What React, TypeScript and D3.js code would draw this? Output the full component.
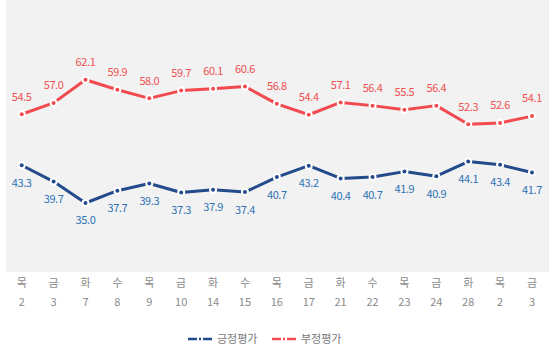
import React from "react";
import * as d3 from "d3";

const days = ["목", "금", "화", "수", "목", "금", "화", "수", "목", "금", "화", "수", "목", "금", "화", "목", "금"];
const dates = ["2", "3", "7", "8", "9", "10", "14", "15", "16", "17", "21", "22", "23", "24", "28", "2", "3"];
const positive = [43.3, 39.7, 35.0, 37.7, 39.3, 37.3, 37.9, 37.4, 40.7, 43.2, 40.4, 40.7, 41.9, 40.9, 44.1, 43.4, 41.7];
const negative = [54.5, 57.0, 62.1, 59.9, 58.0, 59.7, 60.1, 60.6, 56.8, 54.4, 57.1, 56.4, 55.5, 56.4, 52.3, 52.6, 54.1];
const seriesNames = ["긍정평가", "부정평가"];

const W = 554;
const H = 354;
const FONT = "'Noto Sans CJK KR', 'Noto Sans', sans-serif";

export default function App() {
  const idx = days.map((_, i) => i);
  const x = d3.scalePoint<number>().domain(idx).range([21.7, 532]).padding(0);
  const y = d3.scaleLinear().domain([25, 75]).range([248.5, 21]);

  const series = [
    { name: seriesNames[0], values: positive, line: "#234a8a", label: "#2f72b5", dy: 17.6 },
    { name: seriesNames[1], values: negative, line: "#f24a4f", label: "#ef5050", dy: -17.6 },
  ];

  const lineGen = d3
    .line<number>()
    .x((_, i) => x(i) as number)
    .y((d) => y(d));

  return (
    <div style={{ position: "absolute", left: 0, top: 0 }}>
      <svg width={W} height={H} style={{ display: "block", background: "#fff" }}>
        <rect x={6} y={0} width={543} height={272} fill="#f2f2f2" />
        {series.map((s) => (
          <g key={s.name}>
            <path d={lineGen(s.values) || ""} fill="none" stroke={s.line} strokeWidth={3} strokeLinejoin="round" />
            {s.values.map((v, i) => (
              <g key={i}>
                <circle cx={x(i)} cy={y(v)} r={4} fill="#fff" />
                <circle cx={x(i)} cy={y(v)} r={2} fill={s.line} />
                <text
                  x={x(i)}
                  y={y(v) + s.dy}
                  dy="0.35em"
                  textAnchor="middle"
                  fill={s.label}
                  fontSize={11}
                  letterSpacing={-0.4}
                  fontFamily={FONT}
                >
                  {v.toFixed(1)}
                </text>
              </g>
            ))}
          </g>
        ))}
        {idx.map((i) => (
          <g key={i} fontFamily={FONT} fill="#8a8a8a" fontSize={11} textAnchor="middle">
            <text x={x(i)} y={283} dy="0.35em">{days[i]}</text>
            <text x={x(i)} y={302} dy="0.35em">{dates[i]}</text>
          </g>
        ))}
        {series.map((s, k) => {
          const lx = 188 + k * 84;
          const ly = 339;
          return (
            <g key={s.name}>
              <line x1={lx} x2={lx + 9} y1={ly} y2={ly} stroke={s.line} strokeWidth={2.5} />
              <line x1={lx + 11} x2={lx + 13} y1={ly} y2={ly} stroke={s.line} strokeWidth={2.5} />
              <line x1={lx + 15} x2={lx + 24} y1={ly} y2={ly} stroke={s.line} strokeWidth={2.5} />
              <text x={lx + 29} y={ly} dy="0.35em" fill="#777" fontSize={11} fontFamily={FONT}>
                {s.name}
              </text>
            </g>
          );
        })}
      </svg>
    </div>
  );
}
